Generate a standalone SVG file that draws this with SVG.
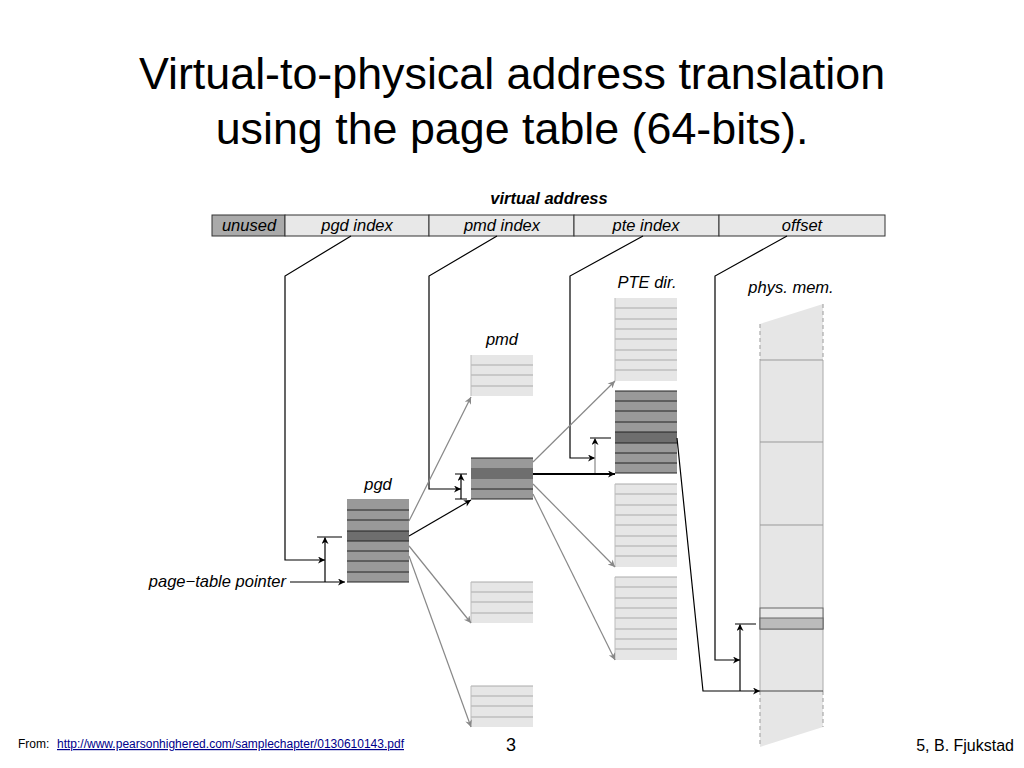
<svg xmlns="http://www.w3.org/2000/svg" width="1024" height="768" viewBox="0 0 1024 768">
<defs>
<style>
.title{font-family:"Liberation Sans",Arial,sans-serif;font-size:44.8px;fill:#000;text-anchor:middle}
.lbl{font-family:"Liberation Sans",Arial,sans-serif;font-size:16.5px;font-style:italic;fill:#000;text-anchor:middle}
.foot{font-family:"Liberation Sans",Arial,sans-serif;fill:#000}
.seg{fill:#e8e8e8;stroke:#333;stroke-width:1}
.light{fill:#e6e6e6;stroke:none}
.lrow{stroke:#aaa;stroke-width:1}
.dark{fill:#999;stroke:none}
.drow{stroke:#222;stroke-width:1}
.blk{fill:none;stroke:#000;stroke-width:1.2}
.gry{fill:none;stroke:#888;stroke-width:1.2}
.tick{stroke:#555;stroke-width:1.5}
</style>
<marker id="ab" viewBox="0 0 10 10" refX="10" refY="5" markerWidth="12" markerHeight="7" markerUnits="userSpaceOnUse" orient="auto"><path d="M0,0 L10,5 L0,10 L3,5 z" fill="#000"/></marker>
<marker id="ag" viewBox="0 0 10 10" refX="10" refY="5" markerWidth="12" markerHeight="7" markerUnits="userSpaceOnUse" orient="auto"><path d="M0,0 L10,5 L0,10 L3,5 z" fill="#888"/></marker>
</defs>
<rect width="1024" height="768" fill="#fff"/>
<g id="title">
<text class="title" x="512" y="89">Virtual-to-physical address translation</text>
<text class="title" x="512" y="144">using the page table (64-bits).</text>
</g>
<g id="virtual-address">
<text class="lbl" x="549" y="204" style="font-weight:bold">virtual address</text>
<rect x="212" y="215" width="73" height="21" fill="#aaa" stroke="#333"/>
<rect class="seg" x="285" y="215" width="144" height="21"/>
<rect class="seg" x="429" y="215" width="145" height="21"/>
<rect class="seg" x="574" y="215" width="145" height="21"/>
<rect class="seg" x="719" y="215" width="166" height="21"/>
<text class="lbl" x="249" y="231">unused</text>
<text class="lbl" x="357" y="231">pgd index</text>
<text class="lbl" x="502" y="231">pmd index</text>
<text class="lbl" x="646" y="231">pte index</text>
<text class="lbl" x="802" y="231">offset</text>
</g>
<g id="pgd">
<text class="lbl" x="378" y="490">pgd</text>
<rect class="dark" x="347" y="499" width="62" height="83"/>
<rect x="347" y="531" width="62" height="10" fill="#6e6e6e"/>
<path class="drow" d="M347,510H409M347,520H409M347,531H409M347,541H409M347,551H409M347,561H409M347,572H409M347,582H409"/>
</g>
<g id="pmd1">
<text class="lbl" x="502" y="345">pmd</text>
<rect class="light" x="471" y="355" width="62" height="41"/>
<path class="lrow" d="M471,365H533M471,375H533M471,386H533"/>
<path d="M471,355V396" stroke="#bbb"/>
</g>
<g id="pmd2">
<rect class="dark" x="471" y="458" width="62" height="41"/>
<rect x="471" y="468" width="62" height="11" fill="#6e6e6e"/>
<path class="drow" d="M471,458H533M471,489H533M471,499H533"/>
</g>
<g id="pmd3">
<rect class="light" x="471" y="582" width="62" height="41"/>
<path class="lrow" d="M471,582H533M471,592H533M471,602H533M471,613H533"/>
<path d="M471,582V623" stroke="#bbb"/>
</g>
<g id="pmd4">
<rect class="light" x="471" y="686" width="62" height="41"/>
<path class="lrow" d="M471,686H533M471,696H533M471,706H533M471,717H533"/>
<path d="M471,686V727" stroke="#bbb"/>
</g>
<g id="pte1">
<text class="lbl" x="647" y="288">PTE dir.</text>
<rect class="light" x="615" y="298" width="62" height="83"/>
<path class="lrow" d="M615,308H677M615,319H677M615,329H677M615,339H677M615,350H677M615,360H677M615,370H677"/>
<path d="M615,298V381" stroke="#bbb"/>
</g>
<g id="pte2">
<rect class="dark" x="615" y="391" width="62" height="82"/>
<rect x="615" y="432" width="62" height="11" fill="#6e6e6e"/>
<path class="drow" d="M615,391H677M615,401H677M615,411H677M615,422H677M615,432H677M615,443H677M615,453H677M615,463H677M615,473H677"/>
</g>
<g id="pte3">
<rect class="light" x="615" y="484" width="62" height="83"/>
<path class="lrow" d="M615,484H677M615,494H677M615,505H677M615,515H677M615,525H677M615,536H677M615,546H677M615,556H677"/>
<path d="M615,484V567" stroke="#bbb"/>
</g>
<g id="pte4">
<rect class="light" x="615" y="577" width="62" height="83"/>
<path class="lrow" d="M615,577H677M615,587H677M615,598H677M615,608H677M615,618H677M615,629H677M615,639H677M615,649H677"/>
<path d="M615,577V660" stroke="#bbb"/>
</g>
<g id="phys-mem">
<text class="lbl" x="791" y="293">phys. mem.</text>
<polygon points="760,324 823,304 823,727 760,747" fill="#e6e6e6"/>
<path d="M760,324V360M823,304V360M760,691V747M823,691V727" stroke="#aaa" stroke-width="1.2" stroke-dasharray="4,3"/>
<path d="M760,360V691M823,360V691" stroke="#aaa" stroke-width="1"/>
<path d="M760,360H823M760,442H823M760,525H823" stroke="#999" stroke-width="1"/>
<rect x="760" y="608" width="63" height="21" fill="#e8e8e8" stroke="#666"/>
<rect x="760" y="618" width="63" height="11" fill="#bbb" stroke="#666"/>
<path d="M760,691H823" stroke="#444" stroke-width="1"/>
</g>
<g id="page-table-pointer">
<text class="lbl" x="286" y="587" style="text-anchor:end">page−table pointer</text>
</g>
<g id="connectors">
<path class="blk" d="M290,582H345" marker-end="url(#ab)"/>
<path class="blk" d="M351,236L285,276V560H325" marker-end="url(#ab)"/>
<path class="blk" d="M325,582V537" marker-end="url(#ab)"/>
<path class="tick" d="M317,537H342"/>
<path class="blk" d="M497,236L429,276V489H461" marker-end="url(#ab)"/>
<path class="blk" d="M461,499V474" marker-end="url(#ab)"/>
<path d="M455,474H467M455,499H467" stroke="#000" stroke-width="1.2"/>
<path class="blk" d="M643,236L570,276V458H595" marker-end="url(#ab)"/>
<path class="gry" d="M595,474V438" marker-end="url(#ab)"/>
<path class="tick" d="M590,438H611"/>
<path class="blk" d="M787,236L715,276V660H740" marker-end="url(#ab)"/>
<path class="blk" d="M740,691V624" marker-end="url(#ab)"/>
<path class="tick" d="M735,624H756"/>
<path class="blk" d="M677,438L703,691H760" marker-end="url(#ab)"/>
<path class="gry" d="M409,521L471,397" marker-end="url(#ag)"/>
<path class="blk" d="M409,536L471,500" marker-end="url(#ab)"/>
<path class="gry" d="M409,546L471,623" marker-end="url(#ag)"/>
<path class="gry" d="M409,556L471,727" marker-end="url(#ag)"/>
<path class="gry" d="M533,462L615,381" marker-end="url(#ag)"/>
<path d="M533,474H615" fill="none" stroke="#000" stroke-width="2" marker-end="url(#ab)"/>
<path class="gry" d="M533,484L615,567" marker-end="url(#ag)"/>
<path class="gry" d="M533,494L615,660" marker-end="url(#ag)"/>
</g>
<g id="footer">
<text class="foot" x="18" y="748" font-size="12">From:</text>
<text class="foot" x="57" y="748" font-size="12" textLength="347" lengthAdjust="spacingAndGlyphs" style="fill:#00008b;text-decoration:underline">http://www.pearsonhighered.com/samplechapter/0130610143.pdf</text>
<text class="foot" x="511" y="751" font-size="18" text-anchor="middle">3</text>
<text class="foot" x="1014" y="751" font-size="16" text-anchor="end">5, B. Fjukstad</text>
</g>
</svg>
